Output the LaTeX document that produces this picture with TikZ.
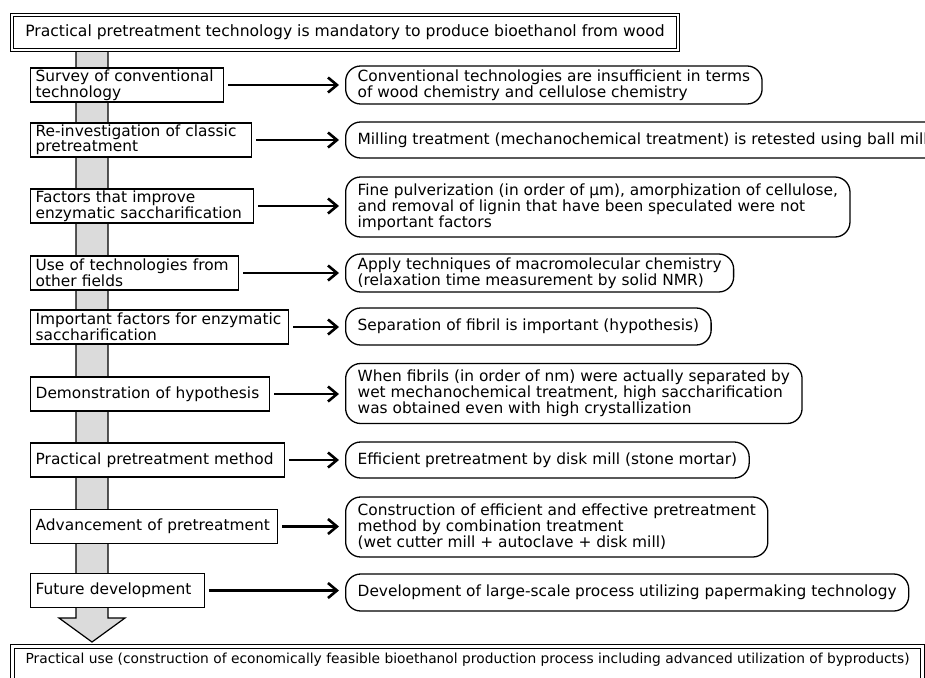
\documentclass[tikz,border=0pt]{standalone}
\usepackage{fontspec}
\setmainfont{DejaVu Sans}
\usetikzlibrary{arrows.meta}

\begin{document}
\begin{tikzpicture}[x=1pt, y=-1pt,
    lbox/.style={draw, fill=white, line width=1.3pt, anchor=west, inner xsep=5pt, inner ysep=1pt,
        minimum height=34pt, align=left, font=\fontsize{15.4}{13.5}\selectfont},
    rbox/.style={draw, fill=white, line width=1.3pt, rounded corners=15pt, anchor=west, inner xsep=12pt,
        inner ysep=2pt, align=left, font=\fontsize{15.4}{14.5}\selectfont},
    link/.style={line width=2.6pt, -{Straight Barb[length=9pt, width=15pt]}, shorten <=4pt, shorten >=6pt}]
    \clip (0,0) rectangle (925,677);

    % grey flow bar
    \draw[fill=black!14, line width=1.2pt] (76,52) -- (76,618) -- (59,618) -- (92,642) -- (125,618) -- (108,618) -- (108,52);

    \node[draw, double, double distance=2.4pt, line width=1.1pt, fill=white, minimum width=666pt, minimum height=35pt,
        inner sep=0pt, font=\fontsize{15.6}{15.6}\selectfont] (goal) at (345,32.5)
        {Practical pretreatment technology is mandatory to produce bioethanol from wood};

    % steps
    \node[lbox, text width=183pt] (s1) at (30,85) {Survey of conventional\\technology};
    \node[lbox, text width=211pt] (s2) at (30,140) {Re-investigation of classic\\pretreatment};
    \node[lbox, text width=213pt] (s3) at (30,206) {Factors that improve\\enzymatic saccharification};
    \node[lbox, text width=198pt] (s4) at (30,273) {Use of technologies from\\other fields};
    \node[lbox, text width=248pt] (s5) at (30,327) {Important factors for enzymatic\\saccharification};
    \node[lbox, text width=229pt] (s6) at (30,394) {Demonstration of hypothesis};
    \node[lbox, text width=244pt] (s7) at (30,460) {Practical pretreatment method};
    \node[lbox, text width=237pt] (s8) at (30,526.5) {Advancement of pretreatment};
    \node[lbox, text width=164pt] (s9) at (30,590.5) {Future development};

    % results
    \node[rbox, minimum height=38pt] (r1) at (345,85) {Conventional technologies are insufficient in terms\\of wood chemistry and cellulose chemistry};
    \node[rbox, minimum height=36pt] (r2) at (345,140) {Milling treatment (mechanochemical treatment) is retested using ball mill};
    \node[rbox, minimum height=60pt] (r3) at (345,207) {Fine pulverization (in order of µm), amorphization of cellulose,\\and removal of lignin that have been speculated were not\\important factors};
    \node[rbox, minimum height=38pt] (r4) at (345,273) {Apply techniques of macromolecular chemistry\\(relaxation time measurement by solid NMR)};
    \node[rbox, minimum height=37pt] (r5) at (345,326.5) {Separation of fibril is important (hypothesis)};
    \node[rbox, minimum height=60pt] (r6) at (345,393.5) {When fibrils (in order of nm) were actually separated by\\wet mechanochemical treatment, high saccharification\\was obtained even with high crystallization};
    \node[rbox, minimum height=36pt] (r7) at (345,460) {Efficient pretreatment by disk mill (stone mortar)};
    \node[rbox, minimum height=60pt] (r8) at (345,527) {Construction of efficient and effective pretreatment\\method by combination treatment\\(wet cutter mill + autoclave + disk mill)};
    \node[rbox, minimum height=37pt] (r9) at (345,592.5) {Development of large-scale process utilizing papermaking technology};

    \foreach \i in {1,...,9}
        \draw[link] (s\i.east) -- (s\i.east -| r\i.west);

    \node[draw, double, double distance=3pt, line width=1.1pt, fill=white, anchor=north west, minimum width=910pt,
        inner xsep=0pt, inner ysep=3pt, text height=14pt, text depth=30pt, font=\fontsize{13.8}{13.8}\selectfont] (use) at (12,646)
        {Practical use (construction of economically feasible bioethanol production process including advanced utilization of byproducts)};
\end{tikzpicture}
\end{document}
